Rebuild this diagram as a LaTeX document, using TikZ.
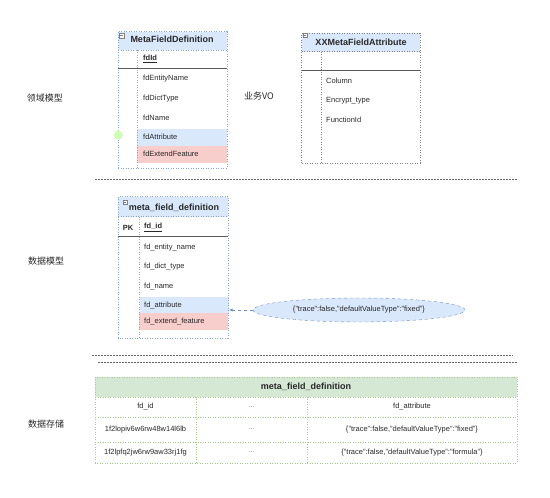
\documentclass[tikz,border=0pt]{standalone}
\usepackage{fontspec}
\setmainfont{Liberation Sans}
\newfontfamily\cjk{Noto Sans CJK SC}
\usepackage{tikz}
\usetikzlibrary{shapes.geometric}
\usetikzlibrary{positioning}
\usetikzlibrary{arrows}

\definecolor{hdrblue}{RGB}{218,232,252}
\definecolor{rowpink}{RGB}{248,206,204}
\definecolor{hdrgreen}{RGB}{213,232,212}
\definecolor{edgeblue}{RGB}{140,165,205}
\definecolor{edgegreen}{RGB}{165,200,140}
\definecolor{sepgray}{RGB}{100,100,100}
\definecolor{ellblue}{RGB}{108,142,191}
\definecolor{txt}{RGB}{40,40,40}

\begin{document}
\begin{tikzpicture}
		[x=1pt, y=1pt, node distance={19.5pt}, text=txt,
		field/.style = {text width=80pt, inner sep=1pt, align=left, font=\fontsize{7.5}{9}\selectfont},
		head/.style = {font=\fontsize{9}{11}\selectfont\bfseries},
		sect/.style = {font=\cjk\fontsize{9}{11}\selectfont},
		cell/.style = {font=\fontsize{7.5}{9}\selectfont},
		box/.style = {draw=edgeblue, dash pattern=on 1pt off 1.5pt, line width=0.6pt},
		keyline/.style = {draw=gray!70!black, line width=0.8pt},
		divider/.style = {draw=sepgray, dash pattern=on 1.5pt off 1.5pt, line width=0.8pt},
		gridline/.style = {draw=edgegreen, dash pattern=on 1pt off 1.5pt, line width=0.6pt},
		iconbox/.style = {draw=gray, fill=white, minimum size=4.5pt, inner sep=0pt, line width=0.4pt,
			path picture={\draw[gray, line width=0.4pt] ([xshift=1pt]path picture bounding box.west) -- ([xshift=-1pt]path picture bounding box.east);}}]
	\useasboundingbox (0,0) rectangle (550,498);
	\node[sect] (l1) at (45,400) {领域模型};
	\node[sect] (l2) at (46,237) {数据模型};
	\node[sect] (l3) at (46,74) {数据存储};
	\node[sect] (vo) at (259,402) {业务VO};

	\fill[hdrblue] (118,448) rectangle (227,466.3);
	\fill[hdrblue] (137.3,352) rectangle (227,368.7);
	\fill[rowpink] (137.3,335.3) rectangle (227,352);
	\draw[box] (118,329.7) rectangle (227,466.3);
	\draw[box] (118,448) -- (227,448);
	\draw[box] (137.3,448) -- (137.3,329.7);
	\draw[keyline] (118,429.7) -- (227,429.7);
	\node[iconbox] (i1) at (121.5,462.5) {};
	\node[head] (h1) at (172,458.7) {MetaFieldDefinition};
	\node[field, anchor=west] (a1) at (142,438.7) {\textbf{\underline{fdId}}};
	\node[field] (a2) [below of = a1] {fdEntityName};
	\node[field] (a3) [below of = a2] {fdDictType};
	\node[field] (a4) [below of = a3] {fdName};
	\node[field] (a5) [below of = a4] {fdAttribute};
	\node[field] (a6) [below of = a5, node distance=17pt] {fdExtendFeature};
	\node[circle, fill=green!50!lime!30, minimum size=9pt, inner sep=0pt] (pin) at (118.3,363) {};

	\fill[hdrblue] (301.7,446.3) rectangle (420,464.7);
	\draw[box, draw=gray] (301.7,334.7) rectangle (420,464.7);
	\draw[box, draw=gray] (301.7,446.3) -- (420,446.3);
	\draw[box, draw=gray] (321.7,446.3) -- (321.7,334.7);
	\draw[keyline] (301.7,427.3) -- (420,427.3);
	\node[iconbox] (i2) at (305,463) {};
	\node[head] (h2) at (361,455.3) {XXMetaFieldAttribute};
	\node[field, anchor=west] (b1) at (325,417) {Column};
	\node[field] (b2) [below of = b1] {Encrypt\_type};
	\node[field] (b3) [below of = b2] {FunctionId};

	\draw[divider] (95,319) -- (517,319);

	\fill[hdrblue] (118.3,281.3) rectangle (228.3,301.3);
	\node[fill=hdrblue, inner sep=0pt, minimum width=89pt, minimum height=15.6pt, anchor=south west] (attr) at (139.3,184.7) {};
	\fill[rowpink] (139.3,168) rectangle (228.3,184.7);
	\draw[box] (118.3,160) rectangle (228.3,301.3);
	\draw[box] (118.3,281.3) -- (228.3,281.3);
	\draw[box] (139.3,281.3) -- (139.3,160);
	\draw[keyline] (118.3,261.3) -- (228.3,261.3);
	\node[iconbox] (i3) at (125,296) {};
	\node[head] (h3) at (174,290) {meta\_field\_definition};
	\node[cell, font=\fontsize{7.5}{9}\selectfont\bfseries] (pk) at (128,270.3) {PK};
	\node[field, anchor=west] (c1) at (143,270.3) {\textbf{\underline{fd\_id}}};
	\node[field] (c2) [below of = c1] {fd\_entity\_name};
	\node[field] (c3) [below of = c2] {fd\_dict\_type};
	\node[field] (c4) [below of = c3] {fd\_name};
	\node[field] (c5) [below of = c4] {fd\_attribute};
	\node[field] (c6) [below of = c5, node distance=16pt] {fd\_extend\_feature};

	\node[ellipse, draw=ellblue, dashed, fill=hdrblue, minimum width=212pt, minimum height=24pt, inner sep=0pt, cell] (json) at (359,188) {\{"trace":false,"defaultValueType":"fixed"\}};
	\draw[ellblue, dashed, -latex] (json.west) -- (json.west -| attr.east);

	\draw[divider] (92,143) -- (513,143);
	\draw[divider] (98,136) -- (518,136);

	\fill[hdrgreen] (95,101) rectangle (517,121);
	\draw[gridline] (95,35) rectangle (517,121);
	\foreach \y in {101,81,56} \draw[gridline] (95,\y) -- (517,\y);
	\foreach \x in {196,307} \draw[gridline] (\x,101) -- (\x,35);
	\node[head] (t0) at (306,111) {meta\_field\_definition};
	\node[cell] (t11) at (145.5,91) {fd\_id};
	\node[cell, text=gray] (t12) at (251.5,91) {...};
	\node[cell] (t13) at (412,91) {fd\_attribute};
	\node[cell] (t21) at (145.5,68.5) {1f2lopiv6w6rw48w14l6lb};
	\node[cell, text=gray] (t22) at (251.5,68.5) {...};
	\node[cell] (t23) at (412,68.5) {\{"trace":false,"defaultValueType":"fixed"\}};
	\node[cell] (t31) at (145.5,45.5) {1f2lpfq2jw6rw9aw33rj1fg};
	\node[cell, text=gray] (t32) at (251.5,45.5) {...};
	\node[cell] (t33) at (412,45.5) {\{"trace":false,"defaultValueType":"formula"\}};
	\end{tikzpicture}
\end{document}
